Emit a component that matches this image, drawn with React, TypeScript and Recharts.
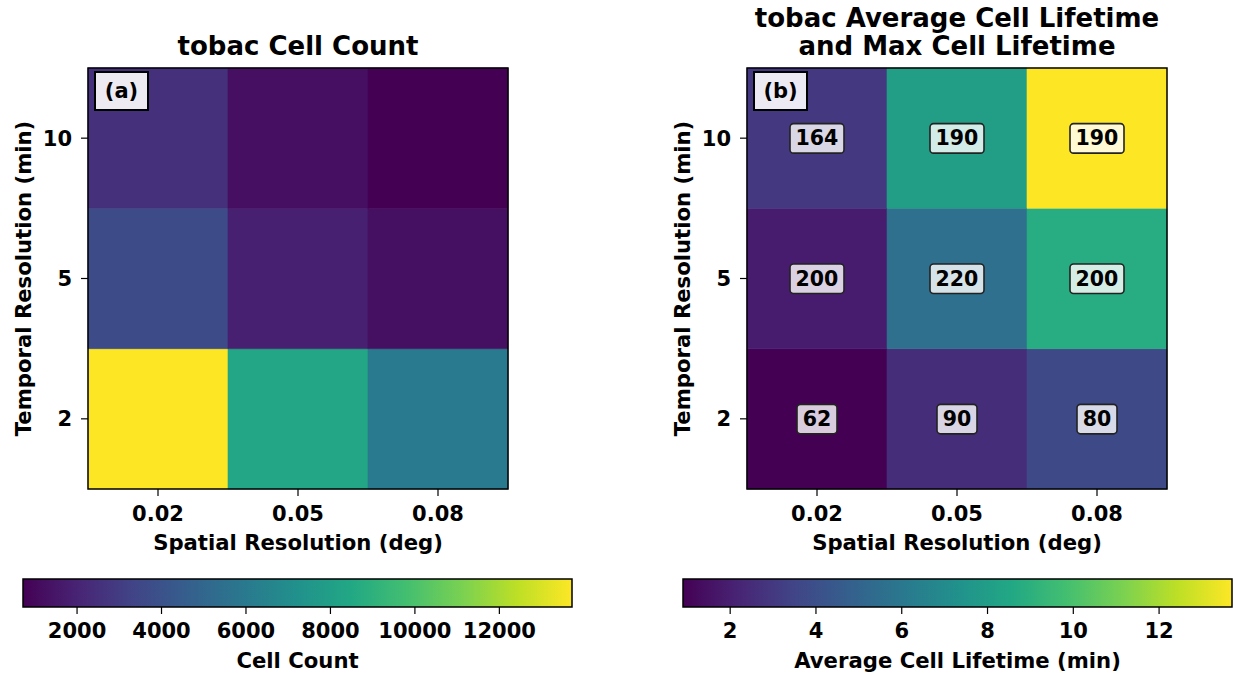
import React from 'react';
import { ScatterChart, Scatter, XAxis, YAxis, ReferenceArea } from 'recharts';

const spatialRes = ['0.02', '0.05', '0.08'];
const temporalRes = ['2', '5', '10'];

// cell count, one row per temporal resolution, columns = spatial resolution
const countT2 = [13720, 8400, 6050];
const countT5 = [3710, 1880, 1280];
const countT10 = [2510, 1250, 720];

// average cell lifetime (min)
const avgLifeT2 = [0.9, 2.54, 3.74];
const avgLifeT5 = [1.89, 5.6, 8.8];
const avgLifeT10 = [3.0, 8.03, 13.7];

// max cell lifetime (min), drawn as box labels
const maxLifeT2 = [62, 90, 80];
const maxLifeT5 = [200, 220, 200];
const maxLifeT10 = [164, 190, 190];

const countTicks = [2000, 4000, 6000, 8000, 10000, 12000];
const lifeTicks = [2, 4, 6, 8, 10, 12];

const VIRIDIS = [
  '#440154', '#482475', '#414487', '#355f8d', '#2a788e', '#21918c',
  '#22a884', '#44bf70', '#7ad151', '#bddf26', '#fde725'
];

function hexToRgb(h: string) {
  return [parseInt(h.slice(1, 3), 16), parseInt(h.slice(3, 5), 16), parseInt(h.slice(5, 7), 16)];
}

function viridis(t: number) {
  const c = Math.max(0, Math.min(1, t));
  const p = c * 10;
  const i = Math.min(9, Math.floor(p));
  const f = p - i;
  const a = hexToRgb(VIRIDIS[i]);
  const b = hexToRgb(VIRIDIS[i + 1]);
  const m = a.map((v, k) => Math.round(v + (b[k] - v) * f));
  return `rgb(${m[0]},${m[1]},${m[2]})`;
}

type CellDatum = { x: number; y: number; v: number; label: number | null };

function buildCells(rows: number[][], labels?: number[][]) {
  const out: CellDatum[] = [];
  rows.forEach((row, yi) =>
    row.forEach((v, xi) => out.push({ x: xi, y: yi, v, label: labels ? labels[yi][xi] : null }))
  );
  return out;
}

const FONT = 'DejaVu Sans, sans-serif';
const tickStyle = { fill: '#000', fontSize: 21, fontWeight: 'bold' as const };

const LabelBox = (props: any) => {
  const { cx, cy, payload } = props;
  if (cx == null || cy == null) return null;
  const s = String(payload.label);
  const w = s.length * 14 + 12;
  return (
    <g>
      <rect x={cx - w / 2} y={cy - 14.5} width={w} height={29.5} rx={3.5}
        fill="#fff" fillOpacity={0.8} stroke="#222" strokeWidth={1.6} />
      <text x={cx} y={cy + 7} textAnchor="middle" fontSize={20.5} fontWeight="bold" fill="#000">{s}</text>
    </g>
  );
};

// panel tag "(a)" / "(b)" placed in the top-left corner of the plot area
const TagBox = (props: any) => {
  const vb = props.viewBox || { x: 88, y: 68 };
  const x = vb.x + 7;
  const y = vb.y + 4;
  return (
    <g>
      <rect x={x} y={y} width={53} height={38} fill="#fff" fillOpacity={0.9} stroke="#000" strokeWidth={2} />
      <text x={x + 26.5} y={y + 26} textAnchor="middle" fontSize={21} fontWeight="bold" fill="#000">{props.tag}</text>
    </g>
  );
};

function Heatmap({ left, title, tag, cells }: { left: number; title: string[]; tag: string; cells: CellDatum[] }) {
  const vals = cells.map((c) => c.v);
  const vmin = Math.min(...vals);
  const vmax = Math.max(...vals);
  const labelled = cells.filter((c) => c.label != null);
  return (
    <div style={{ position: 'absolute', left, top: 0 }}>
      <ScatterChart width={520} height={560} margin={{ top: 68, right: 12, bottom: 0, left: 0 }}>
        <XAxis type="number" dataKey="x" domain={[-0.5, 2.5]} ticks={[0, 1, 2]}
          tickFormatter={(i: number) => spatialRes[i]} height={71} tickSize={7} tickMargin={10}
          tick={tickStyle} axisLine={false} tickLine={{ stroke: '#000', strokeWidth: 1.2 }} allowDataOverflow />
        <YAxis type="number" dataKey="y" domain={[-0.5, 2.5]} ticks={[0, 1, 2]}
          tickFormatter={(i: number) => temporalRes[i]} width={88} tickSize={7} tickMargin={9}
          tick={tickStyle} axisLine={false} tickLine={{ stroke: '#000', strokeWidth: 1.2 }} allowDataOverflow />
        {cells.map((c) => {
          const col = viridis((c.v - vmin) / (vmax - vmin));
          return (
            <ReferenceArea key={`${c.x}-${c.y}`} x1={c.x - 0.5} x2={c.x + 0.5} y1={c.y - 0.5} y2={c.y + 0.5}
              fill={col} fillOpacity={1} stroke={col} strokeWidth={0.6} ifOverflow="visible" />
          );
        })}
        <ReferenceArea x1={-0.5} x2={2.5} y1={-0.5} y2={2.5} fill="none" fillOpacity={0}
          stroke="#000" strokeWidth={1.5} ifOverflow="visible" label={<TagBox tag={tag} />} />
        <Scatter data={labelled} isAnimationActive={false} shape={LabelBox} />
        {title.map((line, i) => (
          <text key={i} x={298} y={55 - (title.length - 1 - i) * 28} textAnchor="middle" fontSize={26}
            fontWeight="bold" fill="#000">{line}</text>
        ))}
        <text x={298} y={550} textAnchor="middle" fontSize={21.2} fontWeight="bold" fill="#000">
          Spatial Resolution (deg)
        </text>
        <text x={31} y={278.5} transform="rotate(-90 31 278.5)" textAnchor="middle" fontSize={21.2}
          fontWeight="bold" fill="#000">
          Temporal Resolution (min)
        </text>
      </ScatterChart>
    </div>
  );
}

function Colorbar({ left, width, rightPad, values, ticks, label, gradId }: {
  left: number; width: number; rightPad: number; values: number[]; ticks: number[]; label: string; gradId: string;
}) {
  const vmin = Math.min(...values);
  const vmax = Math.max(...values);
  const plotCenter = 23 + (width - 23 - rightPad) / 2;
  // the cell values themselves sit (invisibly) on the bar so the chart has data for its scales
  const pts = values.map((v) => ({ x: v, y: 0.5 }));
  return (
    <div style={{ position: 'absolute', left, top: 560 }}>
      <ScatterChart width={width} height={114} margin={{ top: 19, right: rightPad, bottom: 0, left: 23 }}>
        <defs>
          <linearGradient id={gradId} x1="0" y1="0" x2="1" y2="0">
            {VIRIDIS.map((c, i) => (
              <stop key={i} offset={i / 10} stopColor={c} />
            ))}
          </linearGradient>
        </defs>
        <XAxis type="number" dataKey="x" domain={[vmin, vmax]} ticks={ticks} height={67} tickSize={7}
          tickMargin={9} tick={tickStyle} axisLine={false} tickLine={{ stroke: '#000', strokeWidth: 1.2 }}
          allowDataOverflow />
        <YAxis type="number" dataKey="y" domain={[0, 1]} width={0} tick={false} axisLine={false} tickLine={false} />
        <ReferenceArea x1={vmin} x2={vmax} y1={0} y2={1} fill={`url(#${gradId})`} fillOpacity={1}
          stroke="#000" strokeWidth={1.5} ifOverflow="visible" />
        <Scatter data={pts} isAnimationActive={false} shape={() => <g />} />
        <text x={plotCenter} y={108} textAnchor="middle" fontSize={21.2} fontWeight="bold" fill="#000">{label}</text>
      </ScatterChart>
    </div>
  );
}

export default function App() {
  const countCells = buildCells([countT2, countT5, countT10]);
  const lifeCells = buildCells([avgLifeT2, avgLifeT5, avgLifeT10], [maxLifeT2, maxLifeT5, maxLifeT10]);
  return (
    <div style={{ position: 'absolute', left: 0, top: 0, width: 1235, height: 674, background: '#fff', fontFamily: FONT }}>
      <Heatmap left={0} title={['tobac Cell Count']} tag="(a)" cells={countCells} />
      <Heatmap left={659} title={['tobac Average Cell Lifetime', 'and Max Cell Lifetime']} tag="(b)" cells={lifeCells} />
      <Colorbar left={0} width={600} rightPad={28} values={[...countT2, ...countT5, ...countT10]}
        ticks={countTicks} label="Cell Count" gradId="cbCount" />
      <Colorbar left={660} width={575} rightPad={3} values={[...avgLifeT2, ...avgLifeT5, ...avgLifeT10]}
        ticks={lifeTicks} label="Average Cell Lifetime (min)" gradId="cbLife" />
    </div>
  );
}
